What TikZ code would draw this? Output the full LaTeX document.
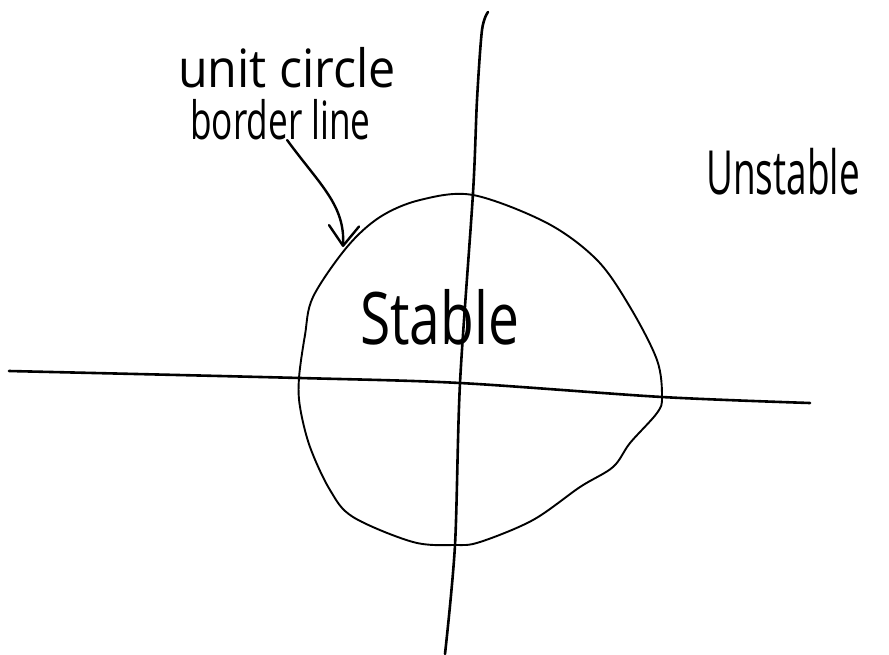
\documentclass[tikz,border=0pt]{standalone}
\usepackage{fontspec}
\setmainfont{Open Sans}
\usepackage{tikz}
\usetikzlibrary{arrows.meta,positioning}
\tikzstyle{axisline}=[line width=2.6pt,line cap=round,black]
\tikzstyle{rimline}=[line width=1.9pt,black]
\tikzstyle{handlabel}=[inner sep=0pt,align=left,text=black]
\tikzstyle{pointer}=[line width=2.4pt,line cap=round,black]

\begin{document}
\begin{tikzpicture}[x=1pt,y=-1pt]
      \useasboundingbox[fill=white] (0,0) rectangle (889,654);

      % axes
      \draw[axisline] plot[smooth,tension=0.5] coordinates
        {(9,371) (300,378) (460,383) (662,397) (810,403)};
      \draw[axisline] plot[smooth,tension=0.5] coordinates
        {(488,12) (482,30) (477,100) (473,193) (460,383) (455,545) (445,654)};

      % stability border
      \draw[rimline] plot[smooth cycle,tension=0.55] coordinates
        {(473,195) (547,223) (597,260) (630,307) (657,360) (662,397)
         (657,413) (630,443) (613,467) (580,487) (533,520) (480,542)
         (455,545) (413,542) (353,517) (330,490) (310,447) (300,407)
         (299,378) (305,335) (313,297) (347,247) (380,217) (420,200)};

      % labels
      \node[handlabel,anchor=north west,font=\fontsize{44}{50}\selectfont] (lbl) at (178,47)
        {\scalebox{1.1}[1.2]{unit circle}\\[2pt]\hspace*{12pt}\scalebox{0.8}[1.2]{border line}};
      \node[handlabel,anchor=base west,font=\fontsize{58}{60}\selectfont] (stab) at (360,344)
        {\scalebox{0.95}[1.25]{Stable}};
      \node[handlabel,anchor=base west,font=\fontsize{42}{44}\selectfont] (unstab) at (706,194)
        {\scalebox{0.88}[1.45]{Unstable}};

      \coordinate (tip) at (343,247);
      \draw[pointer,-{Straight Barb[length=20pt,width=30pt,round]}] (lbl.south) .. controls (320,185) and (345,205) .. (tip);
    \end{tikzpicture}
\end{document}
